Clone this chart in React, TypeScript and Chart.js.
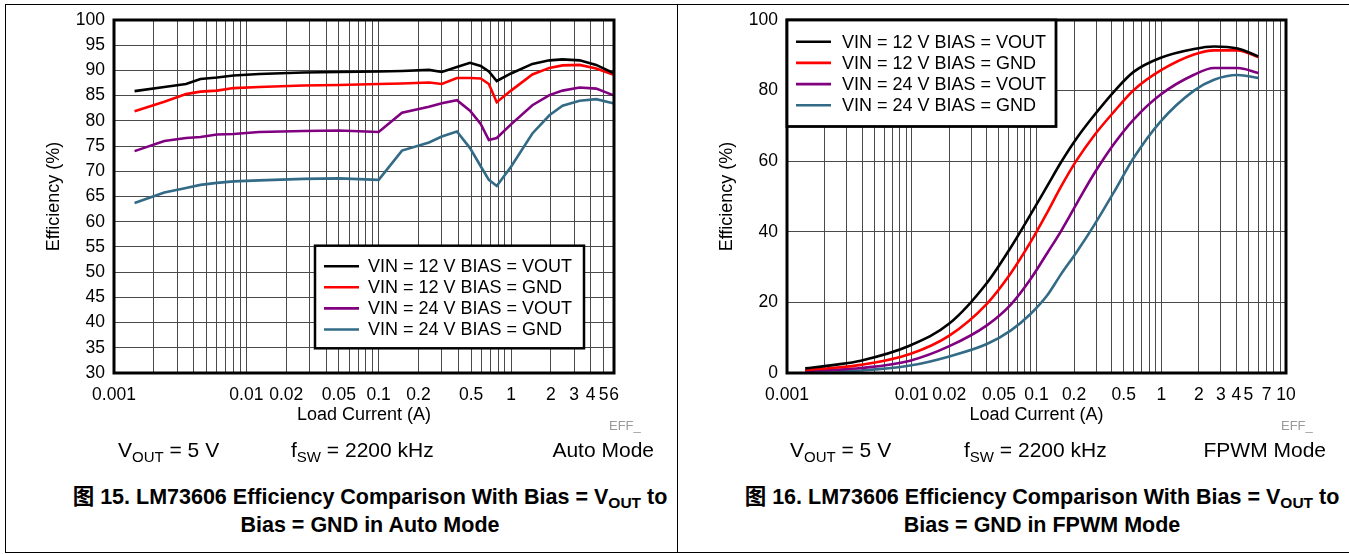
import React, { useEffect, useRef } from 'react';
import { Chart, registerables } from 'chart.js';

Chart.register(...registerables);

// ---------- data ----------
const SERIES_LABELS = [
  'VIN = 12 V BIAS = VOUT',
  'VIN = 12 V BIAS = GND',
  'VIN = 24 V BIAS = VOUT',
  'VIN = 24 V BIAS = GND',
];
const SERIES_COLORS = ['#000000', '#ff0000', '#800080', '#336b87'];

// Auto mode (figure 15)
const AUTO_LOAD = [0.00143, 0.0024, 0.0035, 0.0045, 0.006, 0.008, 0.0125, 0.027, 0.05, 0.1, 0.15, 0.24, 0.3, 0.39, 0.49, 0.59, 0.68, 0.78, 1.0, 1.45, 1.95, 2.45, 3.3, 4.4, 5.9];
const AUTO_12V_VOUT = [85.9, 86.7, 87.3, 88.3, 88.6, 89.0, 89.3, 89.6, 89.7, 89.8, 89.9, 90.1, 89.7, 90.7, 91.5, 90.9, 89.8, 87.9, 89.4, 91.3, 92.0, 92.2, 92.0, 91.1, 89.5];
const AUTO_12V_GND = [81.9, 83.8, 85.3, 85.8, 86.0, 86.5, 86.7, 87.0, 87.1, 87.3, 87.4, 87.6, 87.3, 88.5, 88.5, 88.4, 87.3, 83.7, 86.0, 89.2, 90.5, 91.0, 91.1, 90.4, 89.2];
const AUTO_24V_VOUT = [74.0, 76.0, 76.6, 76.8, 77.3, 77.4, 77.8, 78.0, 78.1, 77.8, 81.6, 82.8, 83.5, 84.1, 82.0, 79.4, 76.2, 76.6, 79.3, 83.1, 85.1, 86.0, 86.6, 86.4, 85.1];
const AUTO_24V_GND = [63.7, 65.8, 66.7, 67.3, 67.7, 68.0, 68.2, 68.5, 68.6, 68.3, 74.1, 75.7, 76.9, 77.9, 74.6, 71.0, 68.3, 67.1, 70.9, 77.5, 81.1, 83.0, 84.0, 84.3, 83.5];
const AUTO_X_TICK_LABELS = [0.001, 0.01, 0.02, 0.05, 0.1, 0.2, 0.5, 1, 2, 3, 4, 5, 6];
const AUTO_X_MAX = 6;
const AUTO_Y_MIN = 30;
const AUTO_Y_STEP = 5;

// FPWM mode (figure 16)
const FPWM_LOAD = [0.0014, 0.0024, 0.0039, 0.0097, 0.02, 0.04, 0.062, 0.09, 0.122, 0.156, 0.21, 0.29, 0.42, 0.6, 0.99, 1.83, 2.65, 4.1, 6.0];
const FPWM_12V_VOUT = [1.3, 2.3, 3.5, 7.8, 14.0, 25.5, 35.5, 45.0, 53.0, 59.5, 66.5, 73.0, 79.8, 85.3, 89.3, 91.8, 92.5, 91.9, 89.7];
const FPWM_12V_GND = [0.85, 1.5, 2.3, 5.4, 10.6, 19.6, 28.2, 37.2, 45.5, 52.6, 60.3, 67.3, 74.1, 80.1, 85.7, 90.2, 91.4, 91.4, 89.5];
const FPWM_24V_VOUT = [0.6, 0.9, 1.4, 3.5, 7.6, 13.5, 19.3, 26.7, 34.0, 40.0, 48.0, 56.5, 65.0, 71.8, 78.9, 84.5, 86.4, 86.4, 85.0];
const FPWM_24V_GND = [0.4, 0.5, 0.7, 2.1, 4.7, 8.2, 12.0, 16.8, 22.0, 27.8, 34.3, 41.9, 51.4, 60.9, 71.3, 80.0, 83.1, 84.4, 83.6];
const FPWM_X_TICK_LABELS = [0.001, 0.01, 0.02, 0.05, 0.1, 0.2, 0.5, 1, 2, 3, 4, 5, 7, 10];
const FPWM_X_MAX = 10;
const FPWM_Y_MIN = 0;
const FPWM_Y_STEP = 20;

const Y_MAX = 100;
const X_MIN = 0.001;

// ---------- helpers ----------
const FONT = '"Liberation Sans", Arial, "Noto Sans CJK SC", sans-serif';

function logGridValues(min: number, max: number): number[] {
  const out: number[] = [];
  for (let k = -4; k <= 2; k++) {
    for (let m = 1; m <= 9; m++) {
      const v = parseFloat((m * Math.pow(10, k)).toPrecision(6));
      if (v >= min - 1e-12 && v <= max + 1e-12) out.push(v);
    }
  }
  return out;
}

type LegendPos = { anchor: 'bottomRight' | 'topLeft'; dx: number; dy: number; w: number; h: number; row0: number; rowGap: number; textX: number; border: number };

const framePlugin = {
  id: 'frameAndLegend',
  afterDatasetsDraw(chart: any, _args: any, opts: any) {
    const { ctx, chartArea } = chart;
    const { left, top, right, bottom } = chartArea;
    ctx.save();
    ctx.strokeStyle = '#000';
    ctx.lineWidth = 3;
    ctx.strokeRect(left, top, right - left, bottom - top);

    const lp: LegendPos = opts.legend;
    let bx: number, by: number;
    if (lp.anchor === 'bottomRight') {
      bx = right - lp.dx - lp.w;
      by = bottom - lp.dy - lp.h;
    } else {
      bx = left + lp.dx;
      by = top + lp.dy;
    }
    ctx.fillStyle = '#fff';
    ctx.fillRect(bx, by, lp.w, lp.h);
    ctx.lineWidth = lp.border;
    ctx.strokeStyle = '#000';
    ctx.strokeRect(bx, by, lp.w, lp.h);
    ctx.font = `18px ${FONT}`;
    ctx.textBaseline = 'middle';
    ctx.textAlign = 'left';
    chart.data.datasets.forEach((ds: any, i: number) => {
      const y = by + lp.row0 + i * lp.rowGap;
      ctx.strokeStyle = ds.borderColor;
      ctx.lineWidth = 2.6;
      ctx.beginPath();
      ctx.moveTo(bx + 9, y);
      ctx.lineTo(bx + 44, y);
      ctx.stroke();
      ctx.fillStyle = '#000';
      ctx.fillText(ds.label, bx + lp.textX, y + 1);
    });
    ctx.restore();
  },
};

function buildConfig(p: {
  xs: number[];
  series: number[][];
  xMax: number;
  yMin: number;
  yStep: number;
  tickLabels: number[];
  smooth: boolean;
  yWidth: number;
  padRight: number;
  yTitlePad: number;
  legend: LegendPos;
}): any {
  const labelSet = new Set(p.tickLabels.map((v) => String(v)));
  return {
    type: 'line',
    data: {
      datasets: p.series.map((vals, i) => ({
        label: SERIES_LABELS[i],
        data: p.xs.map((x, j) => ({ x, y: vals[j] })),
        borderColor: SERIES_COLORS[i],
        backgroundColor: SERIES_COLORS[i],
        borderWidth: 2.6,
        pointRadius: 0,
        pointHoverRadius: 0,
        fill: false,
        tension: p.smooth ? 0.4 : 0,
        cubicInterpolationMode: p.smooth ? 'monotone' : 'default',
      })),
    },
    options: {
      responsive: false,
      maintainAspectRatio: false,
      animation: false,
      events: [],
      layout: { padding: { left: 0, top: 20, right: p.padRight, bottom: 0 } },
      plugins: {
        legend: { display: false },
        tooltip: { enabled: false },
        frameAndLegend: { legend: p.legend },
      },
      scales: {
        x: {
          type: 'logarithmic',
          bounds: 'data',
          min: X_MIN,
          max: p.xMax,
          afterBuildTicks: (scale: any) => {
            scale.ticks = logGridValues(X_MIN, p.xMax).map((v) => ({ value: v }));
          },
          afterFit: (scale: any) => {
            scale.height = 67;
          },
          ticks: {
            autoSkip: false,
            maxRotation: 0,
            minRotation: 0,
            padding: 12,
            color: '#000',
            font: { family: FONT, size: 17.5 },
            callback: (v: any) => {
              const s = String(parseFloat(Number(v).toPrecision(6)));
              return labelSet.has(s) ? s : '';
            },
          },
          grid: { color: '#4a4a4a', lineWidth: 1, drawTicks: false },
          border: { display: false },
          title: {
            display: true,
            text: 'Load Current (A)',
            color: '#000',
            font: { family: FONT, size: 18 },
            padding: { top: 0, bottom: 14 },
          },
        },
        y: {
          type: 'linear',
          min: p.yMin,
          max: Y_MAX,
          afterFit: (scale: any) => {
            scale.width = p.yWidth;
          },
          ticks: {
            stepSize: p.yStep,
            padding: 9,
            color: '#000',
            font: { family: FONT, size: 17.5 },
          },
          grid: { color: '#4a4a4a', lineWidth: 1, drawTicks: false },
          border: { display: false },
          title: {
            display: true,
            text: 'Efficiency (%)',
            color: '#000',
            font: { family: FONT, size: 18 },
            padding: { top: p.yTitlePad, bottom: 0 },
          },
        },
      },
    },
    plugins: [framePlugin],
  };
}

function ChartCanvas({ config, left, width, height }: { config: any; left: number; width: number; height: number }) {
  const ref = useRef<HTMLCanvasElement | null>(null);
  useEffect(() => {
    if (!ref.current) return;
    const chart = new Chart(ref.current, config);
    return () => chart.destroy();
  }, [config]);
  return (
    <canvas
      ref={ref}
      width={width}
      height={height}
      style={{ position: 'absolute', left, top: 0, width, height }}
    />
  );
}

const autoConfig = buildConfig({
  xs: AUTO_LOAD,
  series: [AUTO_12V_VOUT, AUTO_12V_GND, AUTO_24V_VOUT, AUTO_24V_GND],
  xMax: AUTO_X_MAX,
  yMin: AUTO_Y_MIN,
  yStep: AUTO_Y_STEP,
  tickLabels: AUTO_X_TICK_LABELS,
  smooth: false,
  yWidth: 114,
  padRight: 62,
  yTitlePad: 43,
  legend: { anchor: 'bottomRight', dx: 30, dy: 24.7, w: 269, h: 102.6, row0: 20.5, rowGap: 21.1, textX: 53, border: 2.5 },
});

const fpwmConfig = buildConfig({
  xs: FPWM_LOAD,
  series: [FPWM_12V_VOUT, FPWM_12V_GND, FPWM_24V_VOUT, FPWM_24V_GND],
  xMax: FPWM_X_MAX,
  yMin: FPWM_Y_MIN,
  yStep: FPWM_Y_STEP,
  tickLabels: FPWM_X_TICK_LABELS,
  smooth: true,
  yWidth: 109,
  padRight: 63,
  yTitlePad: 38,
  legend: { anchor: 'topLeft', dx: 0, dy: 0, w: 269, h: 106.5, row0: 21.7, rowGap: 21.2, textX: 55, border: 2.8 },
});

const subStyle: React.CSSProperties = { fontSize: 15, position: 'relative', top: 5 };
const captionSub: React.CSSProperties = { fontSize: 15.5, position: 'relative', top: 4 };

function Conditions({ vx, fx, modeRight, mode }: { vx: number; fx: number; modeRight: number; mode: string }) {
  const base: React.CSSProperties = { position: 'absolute', top: 438, fontSize: 21, lineHeight: '24px', whiteSpace: 'nowrap' };
  return (
    <>
      <div style={{ ...base, left: vx }}>
        V<span style={subStyle}>OUT</span> = 5 V
      </div>
      <div style={{ ...base, left: fx }}>
        f<span style={subStyle}>SW</span> = 2200 kHz
      </div>
      <div style={{ ...base, left: modeRight - 300, width: 300, textAlign: 'right' }}>{mode}</div>
    </>
  );
}

function Caption({ center, num, mode }: { center: number; num: string; mode: string }) {
  return (
    <div
      style={{
        position: 'absolute',
        left: center - 320,
        width: 640,
        top: 484,
        fontSize: 21.5,
        fontWeight: 'bold',
        lineHeight: '26px',
        textAlign: 'center',
        whiteSpace: 'nowrap',
      }}
    >
      <div>
        图 {num}. LM73606 Efficiency Comparison With Bias = V<span style={captionSub}>OUT</span> to
      </div>
      <div>Bias = GND in {mode} Mode</div>
    </div>
  );
}

export default function App() {
  return (
    <div
      style={{
        position: 'absolute',
        left: 0,
        top: 0,
        width: 1349,
        height: 554,
        overflow: 'hidden',
        background: '#fff',
        fontFamily: FONT,
        color: '#000',
      }}
    >
      <div
        style={{
          position: 'absolute',
          left: 5,
          top: 4,
          width: 1344,
          height: 549,
          boxSizing: 'border-box',
          borderTop: '1px solid #000',
          borderLeft: '1px solid #000',
          borderBottom: '1.5px solid #000',
        }}
      />
      <div style={{ position: 'absolute', left: 677, top: 4, width: 1, height: 549, background: '#000' }} />

      <ChartCanvas config={autoConfig} left={0} width={676} height={440} />
      <ChartCanvas config={fpwmConfig} left={678} width={671} height={440} />

      <div style={{ position: 'absolute', left: 609, top: 418, fontSize: 13, lineHeight: '15px', color: '#9a9a9a' }}>EFF_</div>
      <div style={{ position: 'absolute', left: 1281, top: 418, fontSize: 13, lineHeight: '15px', color: '#9a9a9a' }}>EFF_</div>

      <Conditions vx={118} fx={291} modeRight={654} mode="Auto Mode" />
      <Conditions vx={790} fx={964} modeRight={1326} mode="FPWM Mode" />

      <Caption center={370} num="15" mode="Auto" />
      <Caption center={1042} num="16" mode="FPWM" />
    </div>
  );
}
